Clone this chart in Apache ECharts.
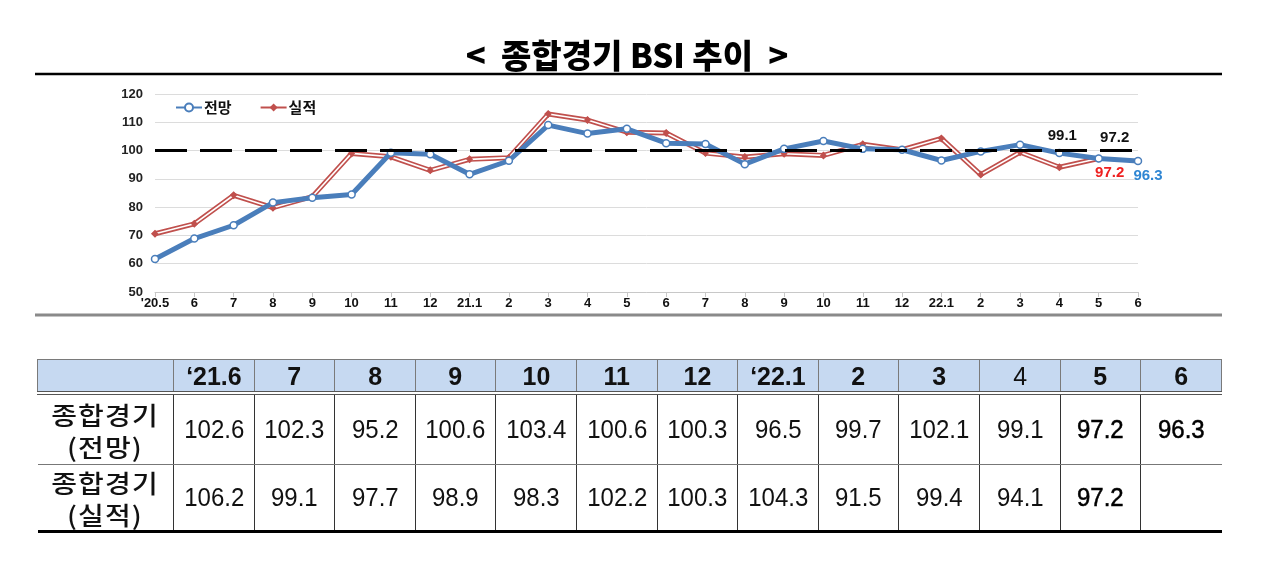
<!DOCTYPE html>
<html>
<head>
<meta charset="utf-8">
<script src="https://cdn.jsdelivr.net/npm/echarts@6/dist/echarts.min.js"></script>
<style>
  html, body { margin: 0; padding: 0; background: #fff; }
  #container { position: absolute; left: 0; top: 0; width: 1280px; height: 562px; }
  #tbl {
    position: absolute; left: 37px; top: 359px;
    border-collapse: collapse; table-layout: fixed; width: 1185px;
    font-family: "Liberation Sans", Arial, sans-serif;
    color: #111;
  }
  #tbl td { padding: 0; text-align: center; overflow: hidden; white-space: nowrap; }
  #tbl td span.n { display: inline-block; transform: scaleX(0.96); }
  #tbl tr.head td {
    height: 31px; background: #c6d9f1; border: 1px solid #7a7a7a;
    border-bottom: 4px double #555; font-weight: bold; font-size: 26px; line-height: 30px;
  }
  #tbl tr.head td.light { font-weight: normal; }
  #tbl tr.row td { border-right: 1px solid #333; font-size: 25px; }
  #tbl tr.row td:last-child { border-right: none; }
  #tbl tr.r1 td { height: 69px; border-bottom: 1px solid #777; }
  #tbl tr.r2 td { height: 65px; border-bottom: 3px solid #000; }
  #tbl td.lab {
    font-family: "Noto Sans CJK KR", sans-serif; font-size: 32px; line-height: 32px;
    font-weight: 500; letter-spacing: 1px;
  }
  #tbl td.lab span { display: inline-block; transform: scaleX(1.12); }
  #tbl td.strong { color: #000; -webkit-text-stroke: 0.5px #000; }
</style>
</head>
<body>
<div id="container"></div>
<table id="tbl"></table>
<script>
// 차트 데이터
var months = ["'20.5", '6', '7', '8', '9', '10', '11', '12', '21.1', '2', '3', '4', '5',
              '6', '7', '8', '9', '10', '11', '12', '22.1', '2', '3', '4', '5', '6'];
var forecast = [61.7, 68.9, 73.6, 81.6, 83.3, 84.5, 99.2, 98.7, 91.6, 96.4, 109.0, 106.0, 107.7,
                102.6, 102.3, 95.2, 100.6, 103.4, 100.6, 100.3, 96.5, 99.7, 102.1, 99.1, 97.2, 96.3];
var actual = [70.6, 74.1, 84.2, 79.8, 83.7, 99.0, 97.8, 93.0, 96.9, 97.5, 112.9, 110.8, 106.5,
              106.2, 99.1, 97.7, 98.9, 98.3, 102.2, 100.3, 104.3, 91.5, 99.4, 94.1, 97.2, null];
var baseLine = 100;

// 표 데이터
var tableMonths = ['‘21.6', '7', '8', '9', '10', '11', '12', '‘22.1', '2', '3', '4', '5', '6'];
var tableStart = 13;
var rowLabels = [['종합경기', '(전망)'], ['종합경기', '(실적)']];

var blue = '#4a7ebb';
var red = '#c0504d';

var dom = document.getElementById('container');
var myChart = echarts.init(dom);

// 마지막 부분 값 라벨
var blueData = forecast.map(function (v, i) {
  if (i === 23) return { value: v, label: { show: true, position: 'top', offset: [3, -1], color: '#111' } };
  if (i === 24) return { value: v, label: { show: true, position: 'top', offset: [16, -4], color: '#111' } };
  if (i === 25) return { value: v, label: { show: true, position: 'bottom', distance: 3, offset: [10, 0], color: '#2f86d3' } };
  return v;
});
var redData = actual.map(function (v, i) {
  if (i === 24) return { value: v, label: { show: true, position: 'bottom', distance: 3, offset: [11, 0], color: '#ee2020' } };
  return v;
});

var labelFont = { fontFamily: 'Liberation Sans, Arial, sans-serif', fontWeight: 'bold', fontSize: 15 };

myChart.setOption(option = {
  backgroundColor: '#fff',
  animation: false,
  graphic: [
    { type: 'text', x: 627, y: 55, style: { text: '<  종합경기 BSI 추이  >', fill: '#000',
      textAlign: 'center', textVerticalAlign: 'middle',
      font: '900 33px "Noto Sans CJK KR", sans-serif' } },
    { type: 'line', shape: { x1: 35, y1: 74, x2: 1222, y2: 74 }, style: { stroke: '#000', lineWidth: 2.5 } },
    { type: 'line', shape: { x1: 35, y1: 315, x2: 1222, y2: 315 }, style: { stroke: '#8a8a8a', lineWidth: 3 } }
  ],
  legend: {
    left: 170, top: 95,
    itemWidth: 26, itemHeight: 10, itemGap: 28,
    data: ['전망', '실적'],
    textStyle: { fontFamily: 'Noto Sans CJK KR', fontWeight: 'bold', fontSize: 15, color: '#111', padding: [0, 0, 0, -3] }
  },
  grid: { left: 155, right: 142, top: 94, bottom: 270 },
  xAxis: {
    type: 'category', data: months, boundaryGap: false,
    axisLine: { lineStyle: { color: '#c8c8c8' } },
    axisTick: { alignWithLabel: true, lineStyle: { color: '#c8c8c8' } },
    axisLabel: { color: '#111', fontFamily: 'Liberation Sans, Arial', fontWeight: 'bold', fontSize: 13, margin: 5, interval: 0 }
  },
  yAxis: {
    type: 'value', min: 50, max: 120, interval: 10,
    axisLine: { show: false }, axisTick: { show: false },
    splitLine: { lineStyle: { color: '#dcdcdc' } },
    axisLabel: { color: '#222', fontFamily: 'Liberation Sans, Arial', fontWeight: 'bold', fontSize: 13, margin: 12 }
  },
  series: [{
    name: '전망', type: 'line', data: blueData, z: 3,
    symbol: 'circle', symbolSize: 7, showAllSymbol: true,
    lineStyle: { color: blue, width: 5 },
    itemStyle: { color: '#fff', borderColor: blue, borderWidth: 1.5 },
    label: labelFont,
    markLine: {
      silent: true, symbol: 'none', label: { show: false },
      lineStyle: { color: '#000', width: 3, type: [32, 13] },
      data: [{ yAxis: baseLine }]
    }
  }, {
    name: '실적', type: 'line', data: redData, z: 2,
    symbol: 'diamond', symbolSize: 8, showAllSymbol: true,
    lineStyle: { color: red, width: 5 },
    itemStyle: { color: red },
    label: labelFont
  }, {
    name: '실적', type: 'line', data: actual, z: 2.5, silent: true,
    showSymbol: false, lineStyle: { color: '#fff', width: 1.6 }
  }, {
    name: '실적', type: 'line', data: actual, z: 2.6, silent: true,
    symbol: 'diamond', symbolSize: 7, showAllSymbol: true,
    lineStyle: { opacity: 0 }, itemStyle: { color: red }
  }]
});

// 표 그리기
var tbl = document.getElementById('tbl');
var html = '<colgroup><col style="width:136px">';
for (var c = 0; c < tableMonths.length; c++) html += '<col>';
html += '</colgroup><tr class="head"><td></td>';
tableMonths.forEach(function (m) {
  html += '<td' + (m === '4' ? ' class="light"' : '') + '><span class="n">' + m + '</span></td>';
});
html += '</tr>';
[forecast, actual].forEach(function (arr, r) {
  html += '<tr class="row r' + (r + 1) + '"><td class="lab"><span>' + rowLabels[r][0] + '<br>' + rowLabels[r][1] + '</span></td>';
  for (var i = 0; i < tableMonths.length; i++) {
    var v = arr[tableStart + i];
    var strong = i >= tableMonths.length - 2 ? ' class="strong"' : '';
    html += '<td' + strong + '><span class="n">' + (v == null ? '' : v.toFixed(1)) + '</span></td>';
  }
  html += '</tr>';
});
tbl.innerHTML = html;
</script>
</body>
</html>
